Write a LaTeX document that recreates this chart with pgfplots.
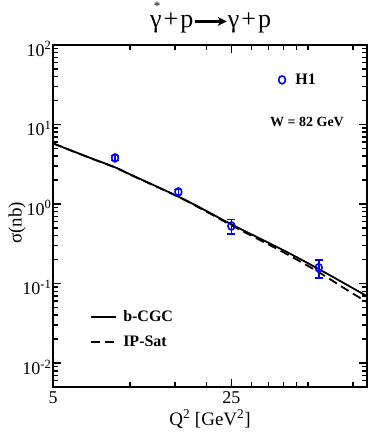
\documentclass[border=0pt]{standalone}
\usepackage{fontspec}
\setmainfont{Liberation Serif}
\usepackage{pgfplots}
\pgfplotsset{compat=1.18}
\usetikzlibrary{arrows.meta}
\definecolor{hblue}{RGB}{0,0,255}

\begin{document}
\begin{tikzpicture}
\useasboundingbox (-53pt,-58pt) rectangle (318pt,387pt);

\begin{axis}[
  at={(0pt,0pt)}, anchor=south west,
  scale only axis, width=314pt, height=342pt,
  xmode=log, ymode=log,
  xmin=5, xmax=85, ymin=0.005, ymax=100,
  xtick={5,25}, xticklabels={5,25},
  minor xtick={10,15,20,30,35,40,45,50,75},
  ytick={0.01,0.1,1,10,100},
  yticklabels={10\textsuperscript{-2},10\textsuperscript{-1},10\textsuperscript{0},10\textsuperscript{1},10\textsuperscript{2}},
  minor ytick={0.005,0.006,0.007,0.008,0.009,
               0.02,0.03,0.04,0.05,0.06,0.07,0.08,0.09,
               0.2,0.3,0.4,0.5,0.6,0.7,0.8,0.9,
               2,3,4,5,6,7,8,9,
               20,30,40,50,60,70,80,90},
  axis line style={line width=1.8pt},
  tick align=inside,
  major tick length=8pt, minor tick length=5pt,
  tick style={black, line width=1.5pt},
  xticklabel style={font=\fontsize{18}{18}\selectfont, yshift=-1pt},
  yticklabel style={font=\fontsize{18}{18}\selectfont, yshift=-4pt, xshift=2pt},
  legend style={draw=none, fill=none, at={(0.118,0.2295)}, anchor=north west,
    font=\bfseries\fontsize{16}{16}\selectfont, row sep=9pt,
    inner sep=0pt},
  legend cell align=left,
  legend image code/.code={\draw[#1, line width=2pt] (0pt,0pt) -- (25pt,0pt);},
]
  \addplot[black, line width=1.8pt, smooth] coordinates {
    (5,5.8) (7,3.8) (8.75,2.9) (10,2.37) (15.5,1.24) (20,0.815)
    (25,0.555) (40,0.262) (55,0.152) (70,0.0986) (85,0.0694)};
  \addlegendentry{\hspace{4pt}b-CGC}
  \addplot[black, line width=1.8pt, smooth, dash pattern=on 9pt off 5pt] coordinates {
    (5,5.78) (7,3.78) (8.75,2.88) (10,2.35) (15.5,1.23) (20,0.80)
    (25,0.54) (40,0.247) (55,0.139) (70,0.0854) (85,0.0584)};
  \addlegendentry{\hspace{4pt}IP-Sat}
\end{axis}

\begin{axis}[
  at={(0pt,0pt)}, anchor=south west,
  scale only axis, width=314pt, height=342pt,
  xmode=log, ymode=log,
  xmin=5, xmax=85, ymin=0.005, ymax=100,
  hide axis,
  legend style={draw=none, fill=none, at={(0.718,0.898)}, anchor=west,
    font=\bfseries\fontsize{16}{16}\selectfont, inner sep=0pt},
]
  \addplot[only marks, hblue, mark=o, mark size=4pt,
    mark options={line width=1.6pt, xscale=0.85},
    error bars/.cd, y dir=both, y explicit,
    error bar style={line width=1.5pt, hblue},
    error mark options={rotate=90, mark size=4pt, line width=1.5pt, hblue}]
    table[x=q2, y=sig, y error=err] {
      q2    sig    err
      8.75  3.80   0.25
      15.5  1.42   0.10
      25    0.53   0.11
      55    0.158  0.04
    };
  \addlegendentry{\hspace{8pt}H1}
\end{axis}

\node[font=\bfseries\fontsize{14}{14}\selectfont] at (254pt,265pt) {W = 82 GeV};
\node[anchor=base west, font=\fontsize{26}{26}\selectfont, inner sep=0pt, text height=17pt] at (97pt,359pt)
  {γ\hspace{2pt}+\hspace{2pt}p\tikz[baseline=-0.55ex]\draw[-{Stealth[length=9pt,width=9pt]}, line width=2.6pt] (0,0) -- (32pt,0);γ\hspace{2pt}+\hspace{2pt}p};
\node[font=\fontsize{13}{13}\selectfont, inner sep=0pt] at (104pt,380.5pt) {*};
\node[anchor=base, font=\fontsize{19}{19}\selectfont] at (157pt,-38pt)
  {Q\textsuperscript{2} [GeV\textsuperscript{2}]};
\node[rotate=90, font=\fontsize{19}{19}\selectfont] at (-36pt,164pt) {σ(nb)};
\end{tikzpicture}
\end{document}
